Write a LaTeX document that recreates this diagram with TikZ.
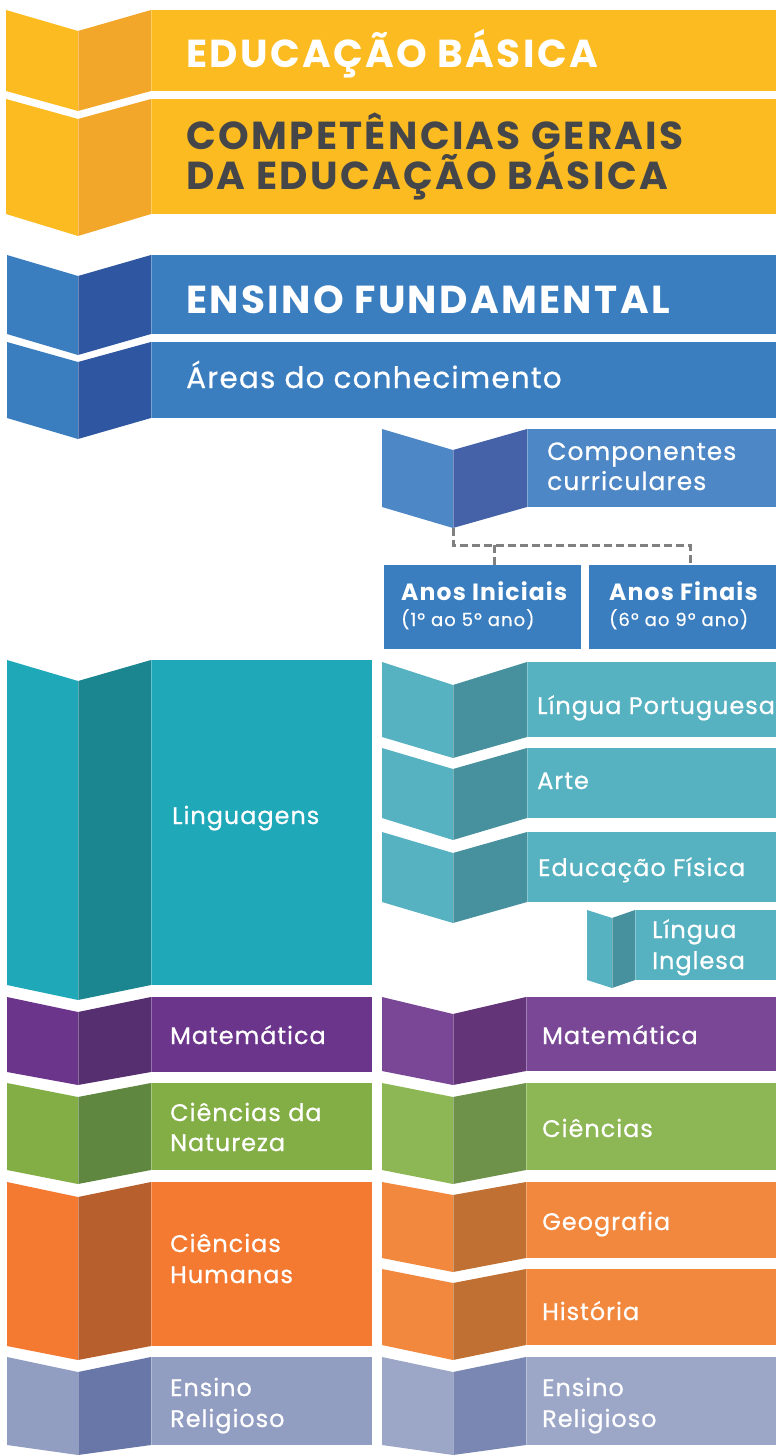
\documentclass[tikz,border=0pt]{standalone}
\usepackage{fontspec}
\setmainfont{Poppins}
\newfontfamily\hdfont{Poppins}[LetterSpace=6]
\newfontfamily\lblfont{Poppins}[LetterSpace=4,FakeBold=0.6]
\newfontfamily\anosfont{Poppins}[LetterSpace=5]
\newfontfamily\subfont{Poppins}[LetterSpace=6,FakeBold=0.4]
\usetikzlibrary{calc}
% colours: L = left panel, D = fold panel, M = main band
\definecolor{yelL}{HTML}{FBBB21}\definecolor{yelD}{HTML}{F2A62A}\definecolor{yelM}{HTML}{FBBB21}
\definecolor{bluL}{HTML}{3A7EC0}\definecolor{bluD}{HTML}{2F56A0}\definecolor{bluM}{HTML}{3A7EC0}
\definecolor{cmpL}{HTML}{4E87C6}\definecolor{cmpD}{HTML}{4562A8}\definecolor{cmpM}{HTML}{4E87C6}
\definecolor{lngL}{HTML}{1FA8B8}\definecolor{lngD}{HTML}{1B8690}\definecolor{lngM}{HTML}{1FA8B8}
\definecolor{tqL}{HTML}{56B1C0}\definecolor{tqD}{HTML}{47919E}\definecolor{tqM}{HTML}{56B1C0}
\definecolor{matL}{HTML}{6C358C}\definecolor{matD}{HTML}{552F70}\definecolor{matM}{HTML}{6C358C}
\definecolor{mtrL}{HTML}{7A4797}\definecolor{mtrD}{HTML}{633578}\definecolor{mtrM}{HTML}{7A4797}
\definecolor{cnL}{HTML}{83AE45}\definecolor{cnD}{HTML}{5F8740}\definecolor{cnM}{HTML}{83AE45}
\definecolor{cirL}{HTML}{8DB654}\definecolor{cirD}{HTML}{6E9249}\definecolor{cirM}{HTML}{8DB654}
\definecolor{chL}{HTML}{F37A30}\definecolor{chD}{HTML}{B85F2E}\definecolor{chM}{HTML}{F37A30}
\definecolor{orL}{HTML}{F2883E}\definecolor{orD}{HTML}{C07033}\definecolor{orM}{HTML}{F2883E}
\definecolor{erL}{HTML}{929DC2}\definecolor{erD}{HTML}{6876A8}\definecolor{erM}{HTML}{929DC2}
\definecolor{errL}{HTML}{9CA6C7}\definecolor{errD}{HTML}{7A87B2}\definecolor{errM}{HTML}{9CA6C7}
\definecolor{anosbox}{HTML}{3A7EC0}
\definecolor{headgray}{HTML}{45464A}
\definecolor{dashgray}{HTML}{808080}
% #1 x0, #2 fold x, #3 band x, #4 right x, #5 top, #6 bottom, #7 top drop, #8 bottom drop, #9 colour prefix
\newcommand\foldshape[9]{%
  \fill[#9L] (#1,#5) -- (#2,#5+#7) -- (#2,#6+#8) -- (#1,#6) -- cycle;
  \fill[#9D] (#2,#5+#7) -- (#3,#5) -- (#3,#6) -- (#2,#6+#8) -- cycle;
  \fill[#9M] (#3,#5) rectangle (#4,#6);
  \draw[foldline] (#2,#5+#7) -- (#2,#6+#8);
  \draw[foldline] (#3,#5) -- (#3,#6);
}
\begin{document}
\begin{tikzpicture}[x=1pt,y=-1pt,
  foldline/.style={white,opacity=0.3,line width=0.7pt},
  lbl/.style={anchor=base west,inner sep=0pt,text=white,font=\lblfont\fontsize{24}{28}\selectfont},
  hd/.style={anchor=base west,inner sep=0pt,text=white,font=\hdfont\fontsize{39}{44}\selectfont\bfseries},
  anos/.style={anchor=base west,inner sep=0pt,text=white,font=\anosfont\fontsize{23.5}{27}\selectfont\bfseries},
  anossub/.style={anchor=base west,inner sep=0pt,text=white,font=\subfont\fontsize{18}{22}\selectfont},
  anosbg/.style={fill=anosbox,inner sep=0pt,anchor=north west},
  dashline/.style={draw=dashgray,line width=3pt,dash pattern=on 8pt off 4pt}]
\useasboundingbox (0,0) rectangle (776,1455);
% top bands
\foldshape{6}{78}{151}{776}{10}{91}{21}{20}{yel}
\foldshape{6}{78}{151}{776}{99}{214}{20}{22}{yel}
\foldshape{7}{78}{151}{776}{255}{334}{21}{21}{blu}
\foldshape{7}{78}{151}{776}{342}{418}{20}{21}{blu}
\foldshape{382}{453}{527}{776}{429}{507}{21}{21}{cmp}
% left column
\foldshape{7}{78}{151}{372}{660}{985}{21}{15}{lng}
\foldshape{7}{78}{151}{372}{997}{1072}{15}{13}{mat}
\foldshape{7}{78}{151}{372}{1083}{1170}{14}{14}{cn}
\foldshape{7}{78}{151}{372}{1182}{1346}{15}{14}{ch}
\foldshape{7}{78}{151}{372}{1357}{1445}{15}{10}{er}
% right column
\foldshape{382}{453}{527}{776}{662}{737}{23}{21}{tq}
\foldshape{382}{453}{527}{776}{748}{818}{21}{22}{tq}
\foldshape{382}{453}{527}{776}{832}{902}{21}{21}{tq}
\foldshape{587}{612}{635}{776}{910}{980}{8}{8}{tq}
\foldshape{382}{453}{526}{776}{997}{1071}{17}{14}{mtr}
\foldshape{382}{453}{526}{776}{1083}{1170}{14}{14}{cir}
\foldshape{382}{453}{526}{776}{1182}{1258}{13}{14}{or}
\foldshape{382}{453}{526}{776}{1269}{1345}{14}{15}{or}
\foldshape{382}{453}{526}{776}{1357}{1445}{15}{10}{err}
% Anos boxes
\node[anosbg,minimum width=197pt,minimum height=84pt] (ai) at (384,565) {};
\node[anosbg,minimum width=187pt,minimum height=84pt] (af) at (589,565) {};
% dashed connector
\coordinate (cfold) at (453,528);
\coordinate (jA) at (453,545);
\coordinate (jB) at (690,545);
\coordinate (jC) at (494,545);
\draw[dashline] (cfold) -- (jA) -- (jB) -- (jB |- af.north);
\draw[dashline] (jC) -- (jC |- ai.north);
% texts
\node[hd] (t1) at (186,68) {EDUCAÇÃO BÁSICA};
\node[hd,text=headgray] (t2a) at (186,150) {COMPETÊNCIAS GERAIS};
\node[hd,text=headgray] (t2b) at (186,190) {DA EDUCAÇÃO BÁSICA};
\node[hd] (t3) at (186,313) {ENSINO FUNDAMENTAL};
\node[lbl,font=\lblfont\fontsize{29.5}{34}\selectfont] (t4) at (186,388) {Áreas do conhecimento};
\node[lbl,font=\lblfont\fontsize{25}{30}\selectfont] (t5a) at (547,460) {Componentes};
\node[lbl,font=\lblfont\fontsize{25}{30}\selectfont] (t5b) at (547,490) {curriculares};
\node[anos] (ai1) at (401,600) {Anos Iniciais};
\node[anossub] (ai2) at (401,626) {(1º ao 5º ano)};
\node[anos] (af1) at (609,600) {Anos Finais};
\node[anossub] (af2) at (609,626) {(6º ao 9º ano)};
\node[lbl] (lng) at (172,824) {Linguagens};
\node[lbl] (lp) at (537,714) {Língua Portuguesa};
\node[lbl] (arte) at (537,789) {Arte};
\node[lbl] (ef) at (538,876) {Educação Física};
\node[lbl] (li1) at (652,938) {Língua};
\node[lbl] (li2) at (652,969) {Inglesa};
\node[lbl] (matl) at (170,1044) {Matemática};
\node[lbl] (matr) at (542,1044) {Matemática};
\node[lbl] (cn1) at (170,1121) {Ciências da};
\node[lbl] (cn2) at (170,1151) {Natureza};
\node[lbl] (cir) at (542,1137) {Ciências};
\node[lbl] (ch1) at (170,1252) {Ciências};
\node[lbl] (ch2) at (170,1283) {Humanas};
\node[lbl] (geo) at (542,1230) {Geografia};
\node[lbl] (his) at (542,1320) {História};
\node[lbl] (erl1) at (170,1396) {Ensino};
\node[lbl] (erl2) at (170,1427) {Religioso};
\node[lbl] (err1) at (542,1396) {Ensino};
\node[lbl] (err2) at (542,1427) {Religioso};
\end{tikzpicture}
\end{document}
